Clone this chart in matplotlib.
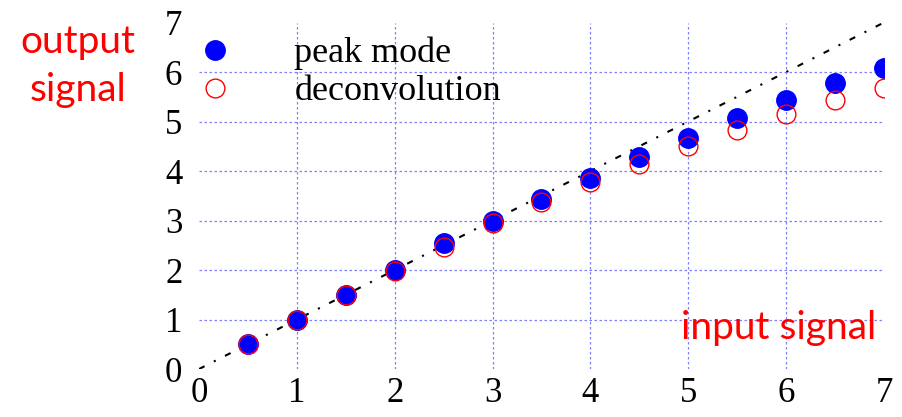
import matplotlib
matplotlib.use("Agg")
import matplotlib.pyplot as plt

x_vals = [0.5, 1.0, 1.5, 2.0, 2.5, 3.0, 3.5, 4.0, 4.5, 5.0, 5.5, 6.0, 6.5, 7.0]
peak_mode = [0.5, 1.0, 1.5, 2.01, 2.54, 3.0, 3.43, 3.85, 4.28, 4.67, 5.07, 5.44, 5.78, 6.08]
deconvolution = [0.5, 1.0, 1.5, 1.99, 2.47, 2.96, 3.37, 3.77, 4.14, 4.50, 4.83, 5.15, 5.44, 5.68]
ideal_x = [0, 7]
ideal_y = [0, 7]
ticks = [0, 1, 2, 3, 4, 5, 6, 7]

fig = plt.figure(figsize=(9.02, 4.17), dpi=100)
ax = fig.add_axes([0.2206, 0.115, 0.7594, 0.831])
ax.set_xlim(0, 7)
ax.set_ylim(0, 7)
ax.set_xticks(ticks)
ax.set_yticks(ticks)
for s in ax.spines.values():
    s.set_visible(False)

serif = "Liberation Serif"
ax.tick_params(length=0, labelsize=25)
ax.tick_params(axis="x", pad=6)
ax.tick_params(axis="y", pad=12)
for lab in ax.get_xticklabels() + ax.get_yticklabels():
    lab.set_fontfamily(serif)

ax.grid(True, color="#8080ff", linestyle=(0, (2, 2)), linewidth=0.9)
for gl in [ax.get_xgridlines()[0], ax.get_xgridlines()[-1],
           ax.get_ygridlines()[0], ax.get_ygridlines()[-1]]:
    gl.set_visible(False)

ax.plot(ideal_x, ideal_y, color="black", linestyle=(0, (3, 5, 1, 5)), linewidth=1.5, zorder=2)
ax.plot(x_vals, peak_mode, linestyle="none", marker="o", markersize=14,
        markerfacecolor="#0000ff", markeredgecolor="#0000ff", label="peak mode", zorder=3)
ax.plot(x_vals, deconvolution, linestyle="none", marker="o", markersize=13.5,
        markerfacecolor="none", markeredgecolor="#ff0000", markeredgewidth=1.0,
        label="deconvolution", zorder=4)

leg = ax.legend(loc="upper left", bbox_to_anchor=(197 / 902, 1 - 37 / 417),
                bbox_transform=fig.transFigure, frameon=False,
                prop={"family": serif, "size": 26}, handletextpad=1.7,
                labelspacing=0.13, borderaxespad=0, borderpad=0, handlelength=1.0)

fig.text(78 / 902, 1 - 42 / 417, "output", color="#ff0000", fontsize=28,
         family="Lato", ha="center", va="center")
fig.text(78 / 902, 1 - 90 / 417, "signal", color="#ff0000", fontsize=28,
         family="Lato", ha="center", va="center")
fig.text(876 / 902, 1 - 328 / 417, "input signal", color="#ff0000", fontsize=28,
         family="Lato", ha="right", va="center")

fig.savefig("out.png", dpi=100)
